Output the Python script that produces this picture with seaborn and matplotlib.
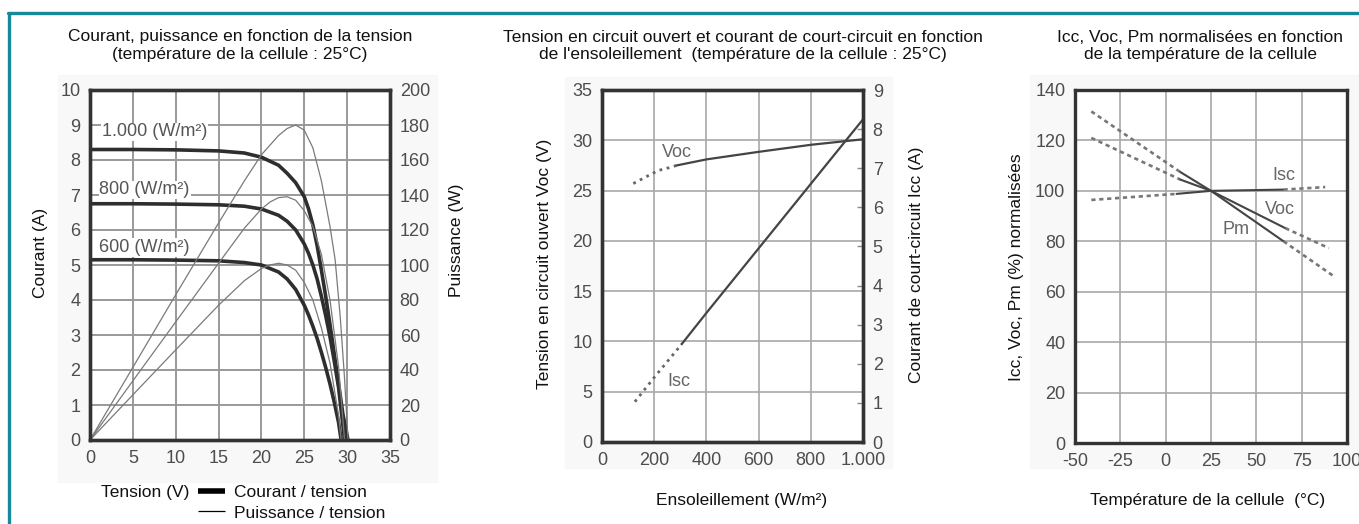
import matplotlib
matplotlib.use("Agg")
import matplotlib.pyplot as plt
from matplotlib.lines import Line2D
from matplotlib.patches import Rectangle
import seaborn as sns

sns.set_theme(style="white")
plt.rcParams['font.family'] = ['Liberation Sans', 'DejaVu Sans']
plt.rcParams['axes.unicode_minus'] = False

W, H = 1359, 524

# panel 1 : courant / puissance en fonction de la tension
v_1000 = [0, 5, 10, 15, 18, 20, 22, 23, 24, 25, 25.5, 26, 26.5, 27, 27.5, 28, 28.5, 29, 29.5, 30.1]
i_1000 = [8.3, 8.3, 8.29, 8.26, 8.2, 8.08, 7.85, 7.62, 7.35, 6.95, 6.6, 6.15, 5.55, 4.85, 4.1, 3.3, 2.45, 1.6, 0.75, 0]
v_800 = [0, 5, 10, 15, 18, 20, 22, 23, 24, 25, 25.5, 26, 26.5, 27, 27.5, 28, 28.5, 29, 29.7]
i_800 = [6.75, 6.75, 6.74, 6.72, 6.68, 6.6, 6.42, 6.25, 6.0, 5.6, 5.33, 5.0, 4.6, 4.1, 3.55, 2.95, 2.25, 1.5, 0]
v_600 = [0, 5, 10, 15, 18, 20, 22, 23, 24, 25, 25.5, 26, 26.5, 27, 27.5, 28, 28.5, 29, 29.3]
i_600 = [5.15, 5.15, 5.14, 5.12, 5.07, 5.0, 4.8, 4.6, 4.3, 3.85, 3.57, 3.25, 2.9, 2.5, 2.07, 1.6, 1.08, 0.5, 0]

pv_1000 = [0, 5, 10, 15, 18, 20, 22, 23, 24, 25, 26, 27, 28, 28.6, 29.2, 29.7, 30.1]
p_1000 = [0, 41.5, 83, 124, 148, 163, 174, 178, 180, 177, 167, 148, 122, 103, 70, 35, 0]
pv_800 = [0, 5, 10, 15, 18, 20, 21, 22, 23, 24, 25, 26, 27, 28, 29, 29.7]
p_800 = [0, 33.8, 67.5, 101, 121, 132, 136, 138.5, 139, 137, 131, 122, 106, 80, 42, 0]
pv_600 = [0, 5, 10, 15, 18, 20, 21, 22, 23, 24, 25, 26, 27, 28, 29, 29.3]
p_600 = [0, 25.8, 51.5, 77, 91, 98, 100, 101, 100, 97, 90, 80, 64, 44, 14, 0]

irr_labels = ["1.000 (W/m²)", "800 (W/m²)", "600 (W/m²)"]

# panel 2 : Voc et Isc en fonction de l'ensoleillement
irr_voc_dot = [120, 171, 216, 261, 286]
voc_dot = [25.7, 26.4, 27.0, 27.3, 27.5]
irr_voc = [286, 400, 600, 800, 1000]
voc = [27.5, 28.1, 28.85, 29.55, 30.1]
irr_isc_dot = [126, 200, 305]
isc_dot = [1.03, 1.65, 2.5]
irr_isc = [305, 400, 600, 800, 1000]
isc = [2.5, 3.3, 4.95, 6.6, 8.25]

# panel 3 : valeurs normalisées en fonction de la température
pm_t = [-41, 8, 25, 65, 92]
pm_n = [131.5, 107.5, 100, 80, 66.5]
voc_t = [-41, 8, 25, 66, 90]
voc_n = [121, 104.5, 100, 85.2, 77.3]
isc_t = [-41, 6, 25, 65, 88]
isc_n = [96.4, 98.8, 100, 100.5, 101.5]

FS = 12.5
TICK_C = '#4d4d4d'
TXT_C = '#111111'


def fx(px):
    return px / W


def fy(py):
    return 1 - py / H


def box(left, top, right, bottom):
    return [fx(left), fy(bottom), fx(right) - fx(left), fy(top) - fy(bottom)]


def style_axes(ax, lw=2.4):
    for s in ax.spines.values():
        s.set_visible(True)
        s.set_color('#333333')
        s.set_linewidth(lw)
    ax.tick_params(length=0, labelsize=13, labelcolor=TICK_C, pad=7)
    ax.set_xlabel('')
    ax.set_ylabel('')


fig = plt.figure(figsize=(W / 100, H / 100), dpi=100)

# faint background of the original images
for l, t, r, b in [(58, 75, 437, 482), (565, 77, 892, 468), (1030, 75, 1359, 468)]:
    fig.patches.append(Rectangle((fx(l), fy(b)), fx(r) - fx(l), fy(t) - fy(b),
                                 transform=fig.transFigure, color='#f8f8f8', zorder=-5))

# teal frame
teal = '#16899a'
fig.add_artist(Line2D([fx(8), 1], [fy(13), fy(13)], color=teal, lw=2.4))
fig.add_artist(Line2D([fx(9), fx(9)], [fy(13), 0], color=teal, lw=2.4))

# ---------- panel 1
ax1 = fig.add_axes(box(90, 90, 390, 440))
ax1.set_facecolor('white')
for v, i in [(v_1000, i_1000), (v_800, i_800), (v_600, i_600)]:
    sns.lineplot(x=v, y=i, ax=ax1, color='#2e2e2e', lw=2.6)
ax1.set_xlim(0, 35)
ax1.set_ylim(0, 10)
ax1.set_xticks(range(0, 36, 5))
ax1.set_yticks(range(0, 11))
ax1.grid(True, color='#999999', lw=1.4)
ax1.set_axisbelow(True)
style_axes(ax1)

ax1r = ax1.twinx()
for v, p in [(pv_1000, p_1000), (pv_800, p_800), (pv_600, p_600)]:
    sns.lineplot(x=v, y=p, ax=ax1r, color='#7a7a7a', lw=0.9)
ax1r.set_ylim(0, 200)
ax1r.set_yticks(range(0, 201, 20))
ax1r.grid(False)
style_axes(ax1r)

for lab, (x, y) in zip(irr_labels, [(1.4, 8.8), (1.1, 7.15), (1.1, 5.5)]):
    ax1.text(x, y, lab, fontsize=13, color='#555555', va='center', ha='left',
             bbox=dict(facecolor='white', edgecolor='none', pad=0.5), zorder=1)

fig.text(fx(240), fy(46), "Courant, puissance en fonction de la tension\n(température de la cellule : 25°C)",
         ha='center', va='center', fontsize=FS, color=TXT_C, linespacing=1.25)
fig.text(fx(40), fy(253), "Courant (A)", rotation=90, ha='center', va='center', fontsize=FS, color=TXT_C)
fig.text(fx(457), fy(240), "Puissance (W)", rotation=90, ha='center', va='center', fontsize=FS, color=TXT_C)
fig.text(fx(145), fy(493), "Tension (V)", ha='center', va='center', fontsize=FS, color=TXT_C)
fig.legend(handles=[Line2D([], [], color='black', lw=4, solid_capstyle='butt'),
                    Line2D([], [], color='black', lw=0.9, solid_capstyle='butt')],
           labels=["Courant / tension", "Puissance / tension"],
           loc='upper left', bbox_to_anchor=(fx(198), fy(485)), frameon=False,
           fontsize=FS, handlelength=1.55, handletextpad=0.5, labelspacing=0.3,
           borderpad=0, borderaxespad=0, labelcolor=TXT_C)

# ---------- panel 2
ax2 = fig.add_axes(box(602, 90, 863, 442))
ax2.set_facecolor('white')
sns.lineplot(x=irr_voc_dot, y=voc_dot, ax=ax2, color='#666666', lw=2, linestyle=':')
sns.lineplot(x=irr_voc, y=voc, ax=ax2, color='#444444', lw=1.6)
ax2.set_xlim(0, 1000)
ax2.set_ylim(0, 35)
ax2.set_xticks(range(0, 1001, 200))
ax2.set_xticklabels(['0', '200', '400', '600', '800', '1.000'])
ax2.set_yticks(range(0, 36, 5))
ax2.grid(True, color='#a8a8a8', lw=1.2)
ax2.set_axisbelow(True)
style_axes(ax2)
ax2.text(287, 28.8, "Voc", fontsize=13, color='#666666', ha='center', va='center')

ax2r = ax2.twinx()
sns.lineplot(x=irr_isc_dot, y=isc_dot, ax=ax2r, color='#666666', lw=2, linestyle=':')
sns.lineplot(x=irr_isc, y=isc, ax=ax2r, color='#444444', lw=1.6)
ax2r.set_ylim(0, 9)
ax2r.set_yticks(range(0, 10))
ax2r.grid(False)
style_axes(ax2r)
ax2r.tick_params(axis='y', direction='in', length=4, width=1, color='#888888')
ax2r.text(295, 1.55, "Isc", fontsize=13, color='#666666', ha='center', va='center')

fig.text(fx(743), fy(46), "Tension en circuit ouvert et courant de court-circuit en fonction\n"
         "de l'ensoleillement  (température de la cellule : 25°C)",
         ha='center', va='center', fontsize=FS, color=TXT_C, linespacing=1.25)
fig.text(fx(545), fy(264), "Tension en circuit ouvert Voc (V)", rotation=90, ha='center', va='center',
         fontsize=FS, color=TXT_C)
fig.text(fx(917), fy(265), "Courant de court-circuit Icc (A)", rotation=90, ha='center', va='center',
         fontsize=FS, color=TXT_C)
fig.text(fx(742), fy(500), "Ensoleillement (W/m²)", ha='center', va='center', fontsize=FS, color=TXT_C)

# ---------- panel 3
ax3 = fig.add_axes(box(1075, 90, 1347, 443))
ax3.set_facecolor('white')
dash = (0, (1.6, 1.4))
for t, n in [(pm_t, pm_n), (voc_t, voc_n), (isc_t, isc_n)]:
    sns.lineplot(x=t[:2], y=n[:2], ax=ax3, color='#777777', lw=1.9, linestyle=dash)
    sns.lineplot(x=t[1:4], y=n[1:4], ax=ax3, color='#444444', lw=1.5)
    sns.lineplot(x=t[3:], y=n[3:], ax=ax3, color='#777777', lw=1.9, linestyle=dash)
ax3.set_xlim(-50, 100)
ax3.set_ylim(0, 140)
ax3.set_xticks(range(-50, 101, 25))
ax3.set_yticks(range(0, 141, 20))
ax3.grid(True, color='#a8a8a8', lw=1.2)
ax3.set_axisbelow(True)
style_axes(ax3)
ax3.text(65, 106, "Isc", fontsize=13, color='#666666', ha='center', va='center')
ax3.text(63, 92.5, "Voc", fontsize=13, color='#666666', ha='center', va='center')
ax3.text(39, 84.5, "Pm", fontsize=13, color='#666666', ha='center', va='center')

fig.text(fx(1200), fy(46), "Icc, Voc, Pm normalisées en fonction\nde la température de la cellule",
         ha='center', va='center', fontsize=FS, color=TXT_C, linespacing=1.25)
fig.text(fx(1016), fy(267), "Icc, Voc, Pm (%) normalisées", rotation=90, ha='center', va='center',
         fontsize=FS, color=TXT_C)
fig.text(fx(1208), fy(500), "Température de la cellule  (°C)", ha='center', va='center',
         fontsize=FS, color=TXT_C)

fig.savefig("out.png", dpi=100)
